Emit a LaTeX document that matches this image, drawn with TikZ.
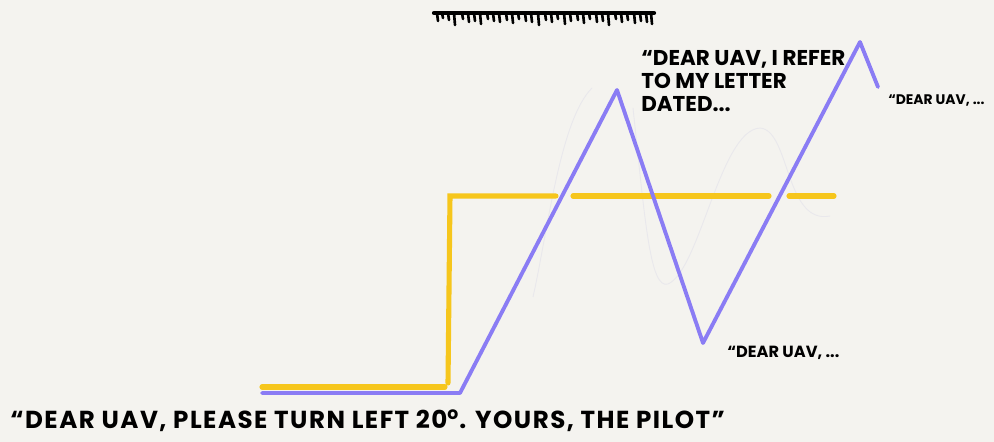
\documentclass[tikz,border=0pt]{standalone}
\usepackage{fontspec}
\setmainfont{Poppins}
\usetikzlibrary{positioning}
\definecolor{paper}{HTML}{F4F3EF}
\definecolor{uav}{HTML}{8A7CF4}
\definecolor{pilot}{HTML}{F6C61C}
\definecolor{ghost}{HTML}{E9E8EC}

\begin{document}
\begin{tikzpicture}[x=0.02cm,y=-0.02cm,font=\bfseries,
  said/.style={inner sep=0pt,align=left,anchor=north west},
  cmd/.style={line width=2.9pt,draw=pilot,line cap=round},
  track/.style={line width=2.2pt,draw=uav,line cap=round,line join=round}]
\fill[paper] (0,0) rectangle (994,442);
\useasboundingbox (0,0) rectangle (994,442);
% faint sketch underneath
\draw[ghost,line width=.5pt] (533,297) .. controls (548,230) and (560,120) .. (592,88);
\draw[ghost,line width=.5pt] (633,108) .. controls (645,220) and (650,290) .. (668,284)
  .. controls (700,270) and (720,130) .. (760,128)
  .. controls (790,130) and (785,225) .. (830,216);
% commanded heading
\coordinate (c0) at (262,387);
\coordinate (c1) at (445,387);
\coordinate (c2) at (448,383);
\coordinate (c3) at (450,196);
\coordinate (c4) at (556,196);
\coordinate (c5) at (573,196);
\coordinate (c6) at (769,196);
\coordinate (c7) at (789,196);
\coordinate (c8) at (834,196);
\draw[cmd] (c0)--(c1);
\draw[cmd] (c2)--(c3)--(c4);
\draw[cmd] (c5)--(c6);
\draw[cmd] (c7)--(c8);
% actual heading
\coordinate (p0) at (262,393);
\coordinate (p1) at (460,393);
\coordinate (p2) at (617,90);
\coordinate (p3) at (703,343);
\coordinate (p4) at (860,42);
\coordinate (p5) at (878,87);
\draw[track] (p0)--(p1)--(p2)--(p3)--(p4)--(p5);
% scribbled title
\draw[line width=2.4pt,line cap=round] (434,13)--(654,13);
\foreach \x/\l in {437/8,442/5,448/7,454/12,462/6,468/9,474/8,480/11,487/6,
  493/8,499/9,506/7,512/10,518/6,525/8,531/9,538/12,545/7,551/9,557/6,
  564/11,570/8,577/7,583/10,589/6,596/9,602/8,608/12,615/6,621/9,627/7,
  634/10,640/8,646/9,651/11}
  \draw[line width=1.5pt,line cap=round] (\x,13)--(\x+1,13+\l);
% letters
\node[said,font=\bfseries\fontsize{14}{17}\selectfont\addfontfeatures{LetterSpace=6}] (pilotmsg) at (10,409)
  {“DEAR UAV, PLEASE TURN LEFT 20\textsuperscript{o}. YOURS, THE PILOT”};
\node[said,font=\bfseries\fontsize{12.2}{13.2}\selectfont] (reply1) at (641,50)
  {“DEAR UAV, I REFER\\TO MY LETTER\\DATED...};
\node[said,font=\bfseries\fontsize{9.2}{12}\selectfont] (reply2) at (727,346)
  {“DEAR UAV, ...};
\node[said,font=\bfseries\fontsize{7.9}{9}\selectfont] (reply3) at (888,94)
  {“DEAR UAV, ...};
\end{tikzpicture}
\end{document}
